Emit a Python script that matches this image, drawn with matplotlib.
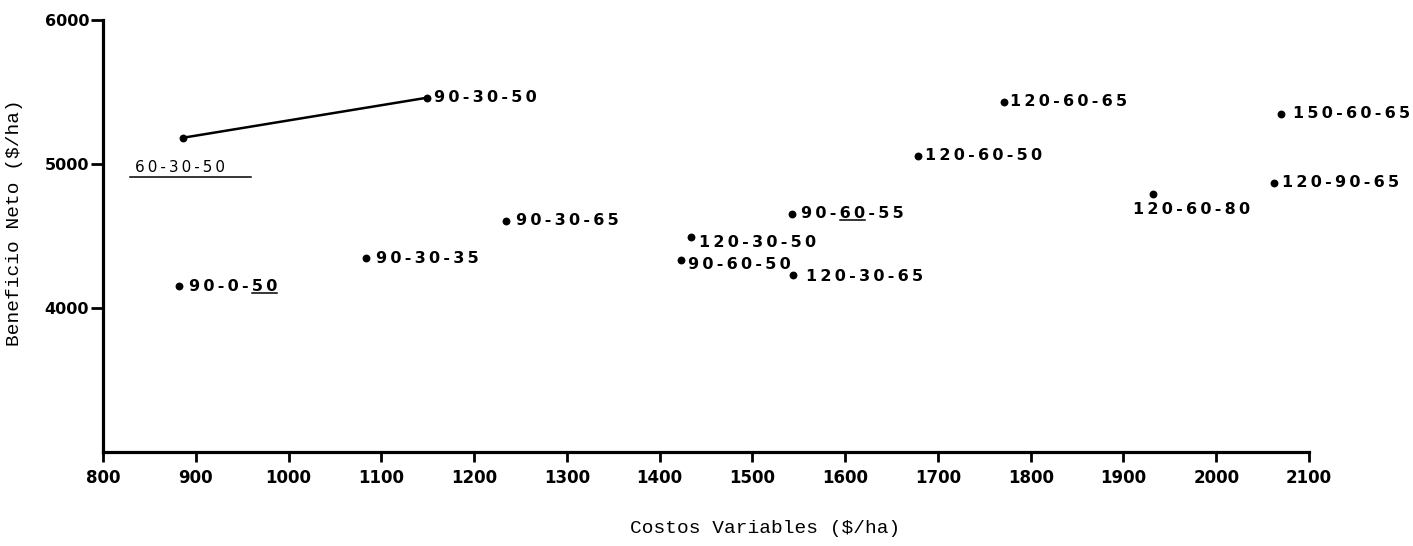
import matplotlib
matplotlib.use("Agg")
import matplotlib.pyplot as plt
from matplotlib.lines import Line2D

# ---- data ----
treatments = ["60-30-50", "90-30-50", "90-0-50", "90-30-35", "90-30-65",
              "120-30-50", "90-60-50", "90-60-55", "120-30-65", "120-60-50",
              "120-60-65", "120-60-80", "120-90-65", "150-60-65"]
costos = [886, 1149, 882, 1083, 1234, 1434, 1423, 1543, 1544, 1679,
          1771, 1932, 2062, 2070]
beneficio = [5182, 5460, 4150, 4344, 4607, 4496, 4330, 4656, 4226, 5057,
             5432, 4794, 4870, 5349]
# dominance curve (non-dominated treatments joined by a line)
frontier = ["60-30-50", "90-30-50"]
# part of the label that is underlined in the original
underlined = {"60-30-50": "60-30-50", "90-0-50": "50", "90-60-55": "60"}

x_ticks = [800, 900, 1000, 1100, 1200, 1300, 1400, 1500, 1600, 1700,
           1800, 1900, 2000, 2100]
y_ticks = [4000, 5000, 6000]
x_label = "Costos Variables ($/ha)"
y_label = "Beneficio Neto ($/ha)"

# ---- label placement (pixel offsets from the point) ----
offsets = {"60-30-50": (-48, -30), "90-30-50": (7, 0), "90-0-50": (10, 0),
           "90-30-35": (10, 0), "90-30-65": (10, 0), "120-30-50": (8, -6),
           "90-60-50": (7, -4), "90-60-55": (9, 0), "120-30-65": (13, -1),
           "120-60-50": (7, 0), "120-60-65": (6, 0), "120-60-80": (-20, -16),
           "120-90-65": (8, 0), "150-60-65": (12, 0)}

W, H = 1413, 546
fig = plt.figure(figsize=(W / 100, H / 100), dpi=100)
ax = fig.add_axes([103 / W, 1 - 452 / H, (1309 - 103) / W, (452 - 20) / H])

ax.set_xlim(800, 2100)
ax.set_ylim(3000, 6000)
for s in ("top", "right"):
    ax.spines[s].set_visible(False)
for s in ("left", "bottom"):
    ax.spines[s].set_linewidth(2.3)
    ax.spines[s].set_color("black")

ax.set_xticks(x_ticks)
ax.set_xticklabels([str(t) for t in x_ticks],
                   fontdict=dict(family="DejaVu Sans", weight="bold", size=12))
ax.set_yticks(y_ticks)
ax.set_yticklabels([str(t) for t in y_ticks],
                   fontdict=dict(family="DejaVu Sans", weight="bold", size=11.5))
ax.tick_params(axis="x", direction="out", length=7, width=2, pad=5)
ax.tick_params(axis="y", direction="out", length=9, width=2, pad=1)

mono = dict(family="Liberation Mono", size=14)
ax.set_xlabel(x_label, fontdict=mono)
ax.xaxis.set_label_coords(0.549, -0.176)
ax.xaxis.label.set_va("center")
ax.set_ylabel(y_label, fontdict=mono)
ax.yaxis.set_label_coords(-0.073, 0.532)
ax.yaxis.label.set_va("center")

# frontier line
fx = [costos[treatments.index(t)] for t in frontier]
fy = [beneficio[treatments.index(t)] for t in frontier]
ax.plot(fx, fy, color="black", lw=1.8, zorder=2)

# points
ax.scatter(costos, beneficio, s=32, color="black", zorder=3, linewidths=0)

SP = "\u2009"
texts = []
for t, xv, yv in zip(treatments, costos, beneficio):
    dx, dy = offsets[t]
    size = 11 if t == "60-30-50" else 11.5
    weight = "normal" if t == "60-30-50" else "bold"
    tx = ax.annotate(SP.join(t), xy=(xv, yv), xytext=(dx, dy),
                     textcoords="offset pixels", ha="left", va="center",
                     family="DejaVu Sans", weight=weight, size=size, zorder=4)
    texts.append((t, tx))

fig.canvas.draw()
r = fig.canvas.get_renderer()


def width(s, ref):
    if not s:
        return 0.0
    tmp = fig.text(0, 0, s, family="DejaVu Sans", weight=ref.get_weight(),
                   size=ref.get_size())
    w = tmp.get_window_extent(r).width
    tmp.remove()
    return w


for t, tx in texts:
    if t not in underlined:
        continue
    part = underlined[t]
    bb = tx.get_window_extent(r)
    start = t.rfind(part) if part != t else 0
    pre = SP.join(t[:start]) + (SP if start > 0 else "")
    x0 = bb.x0 + width(pre, tx)
    x1 = x0 + width(SP.join(part), tx)
    yb = bb.y0 + 1
    if part == t:
        x0 -= 5
        x1 += 26
        yb -= 3
    fig.add_artist(Line2D([x0 / W, x1 / W], [yb / H, yb / H],
                          transform=fig.transFigure, color="black", lw=1.1))

fig.savefig("out.png", dpi=100)
